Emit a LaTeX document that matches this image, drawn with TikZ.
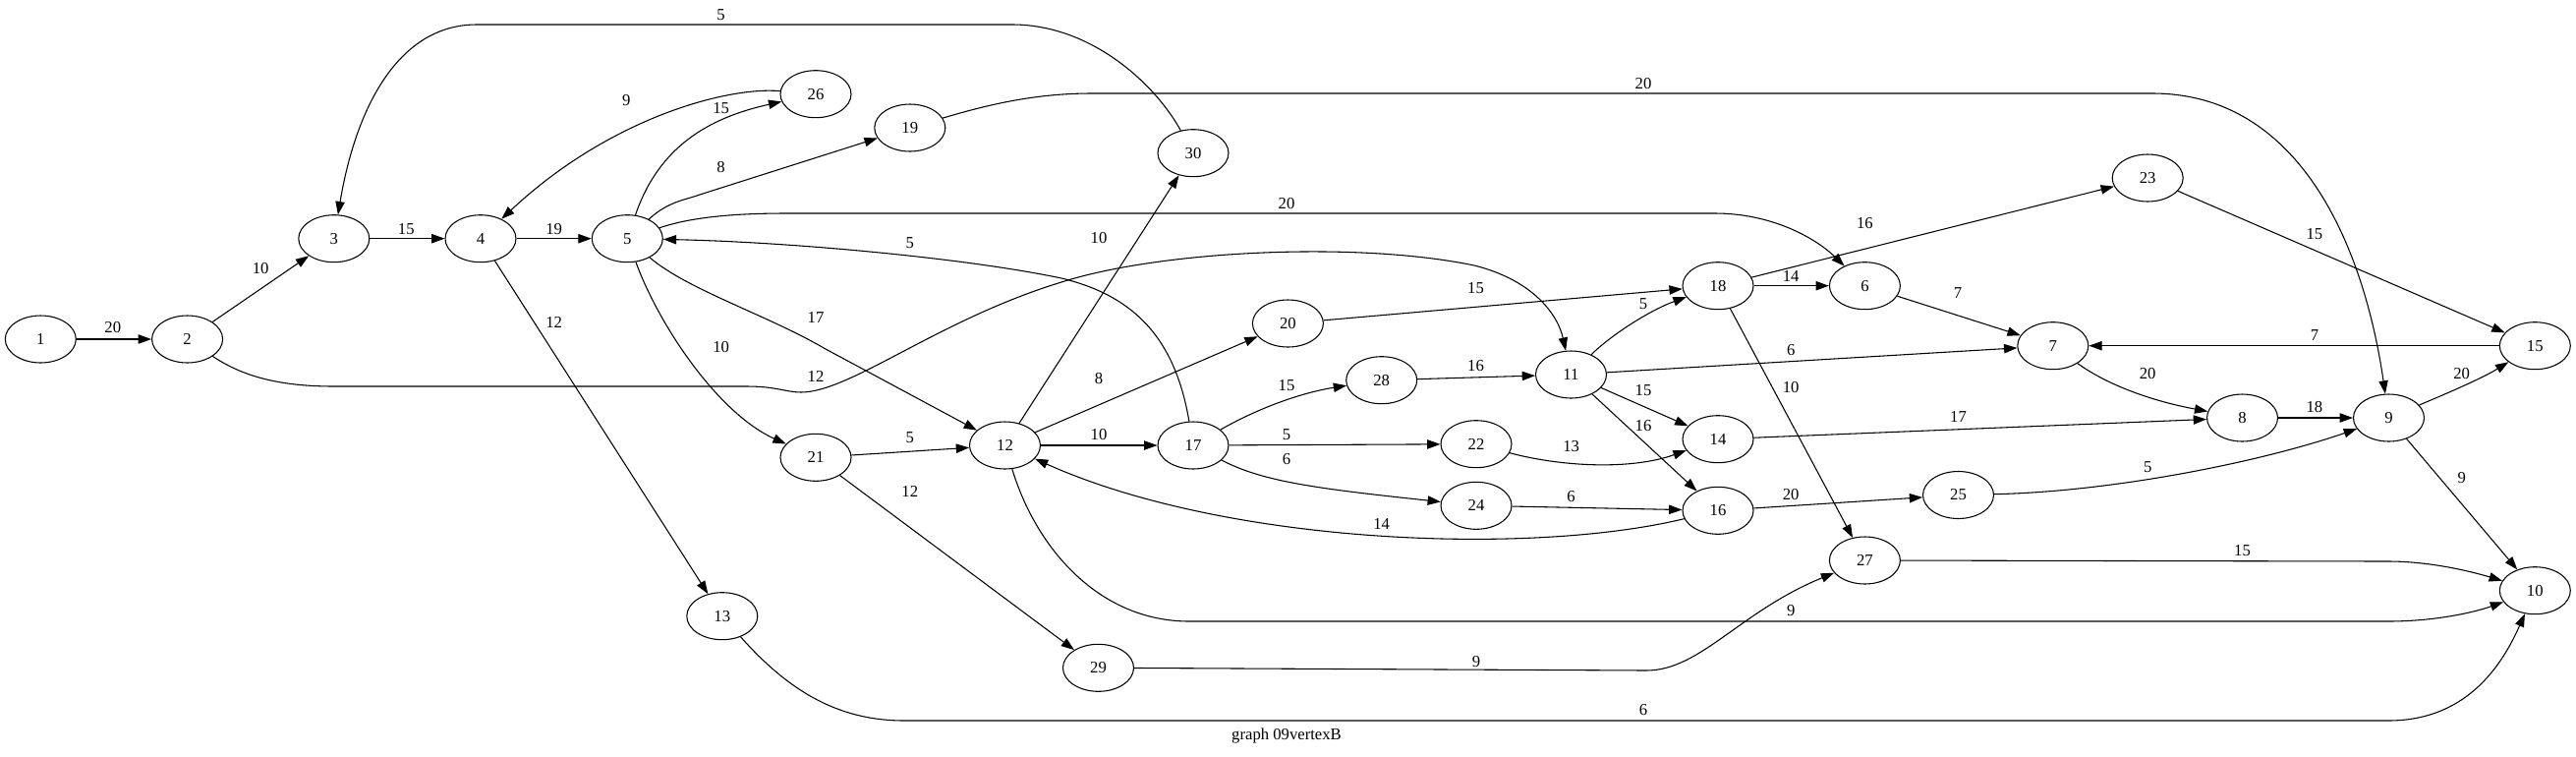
\documentclass[tikz,border=0pt]{standalone}
\usepackage{fontspec}
\setmainfont{Liberation Serif}
\usepackage{tikz}
\usetikzlibrary{arrows.meta,shapes.geometric}

\begin{document}
\begin{tikzpicture}[x=0.75pt,y=-0.75pt,line width=0.8pt,
    >={Triangle[length=10pt,width=7pt]},
    vertex/.style={ellipse,draw,minimum width=54pt,minimum height=36pt,inner sep=0pt,
      font=\fontsize{12.5}{14}\selectfont},
    wt/.style={inner sep=0pt,font=\fontsize{12.5}{14}\selectfont}]
  \useasboundingbox (0,0) rectangle (2621,769);

  % vertices
  \draw (41.3,345) node[vertex] (v1) {1};
  \draw (190.6,345) node[vertex] (v2) {2};
  \draw (339.8,242.7) node[vertex] (v3) {3};
  \draw (489,242.7) node[vertex] (v4) {4};
  \draw (638.3,242.7) node[vertex] (v5) {5};
  \draw (830,95.7) node[vertex] (v26) {26};
  \draw (925.8,130) node[vertex] (v19) {19};
  \draw (1214,155.7) node[vertex] (v30) {30};
  \draw (1022.5,453) node[vertex] (v12) {12};
  \draw (830,465.3) node[vertex] (v21) {21};
  \draw (734.8,626.7) node[vertex] (v13) {13};
  \draw (1117.5,679.3) node[vertex] (v29) {29};
  \draw (1310.4,329) node[vertex] (v20) {20};
  \draw (1214,453) node[vertex] (v17) {17};
  \draw (1405.7,386.7) node[vertex] (v28) {28};
  \draw (1502,451.7) node[vertex] (v22) {22};
  \draw (1502,514.3) node[vertex] (v24) {24};
  \draw (1598.5,381) node[vertex] (v11) {11};
  \draw (1748,290.7) node[vertex] (v18) {18};
  \draw (1897.4,290.7) node[vertex] (v6) {6};
  \draw (1748,446.7) node[vertex] (v14) {14};
  \draw (1748,519.3) node[vertex] (v16) {16};
  \draw (1992.5,503.5) node[vertex] (v25) {25};
  \draw (1897.4,570) node[vertex] (v27) {27};
  \draw (2185.2,181) node[vertex] (v23) {23};
  \draw (2088.8,351.7) node[vertex] (v7) {7};
  \draw (2281.5,425) node[vertex] (v8) {8};
  \draw (2430.5,425) node[vertex] (v9) {9};
  \draw (2579.3,351.7) node[vertex] (v15) {15};
  \draw (2579.3,600.7) node[vertex] (v10) {10};

  % straight edges
  \draw[->] (v1) -- (v2) node[wt] (l1-2) at (114.8,333.3) {20};
  \draw[->] (v2) -- (v3) node[wt] (l2-3) at (265.2,273.3) {10};
  \draw[->] (v3) -- (v4) node[wt] (l3-4) at (413.3,232.7) {15};
  \draw[->] (v4) -- (v5) node[wt] (l4-5) at (563.7,232.7) {19};
  \draw[->] (v4) -- (v13) node[wt] (l4-13) at (563.7,328.3) {12};
  \draw[->] (v12) -- (v30) node[wt] (l12-30) at (1118,241.7) {10};
  \draw[->] (v12) -- (v20) node[wt] (l12-20) at (1118,385) {8};
  \draw[->] (v12) -- (v17) node[wt] (l12-17) at (1118,442.3) {10};
  \draw[->] (v21) -- (v12) node[wt] (l21-12) at (925.8,445) {5};
  \draw[->] (v21) -- (v29) node[wt] (l21-29) at (925.8,500) {12};
  \draw[->] (v20) -- (v18) node[wt] (l20-18) at (1501.5,293) {15};
  \draw[->] (v17) -- (v22) node[wt] (l17-22) at (1309,441.7) {5};
  \draw[->] (v28) -- (v11) node[wt] (l28-11) at (1501.5,372) {16};
  \draw[->] (v11) -- (v7) node[wt] (l11-7) at (1822.2,356) {6};
  \draw[->] (v11) -- (v14) node[wt] (l11-14) at (1672,396.7) {15};
  \draw[->] (v11) -- (v16) node[wt] (l11-16) at (1672,433.3) {16};
  \draw[->] (v18) -- (v6) node[wt] (l18-6) at (1822.2,281) {14};
  \draw[->] (v18) -- (v23) node[wt] (l18-23) at (1897.4,226.7) {16};
  \draw[->] (v18) -- (v27) node[wt] (l18-27) at (1822.2,394) {10};
  \draw[->] (v24) -- (v16) node[wt] (l24-16) at (1598.6,505) {6};
  \draw[->] (v16) -- (v25) node[wt] (l16-25) at (1822.2,502.7) {20};
  \draw[->] (v6) -- (v7) node[wt] (l6-7) at (1991.9,298.3) {7};
  \draw[->] (v23) -- (v15) node[wt] (l23-15) at (2354.9,238.3) {15};
  \draw[->] (v15) -- (v7) node[wt] (l15-7) at (2354.9,340.7) {7};
  \draw[->] (v14) -- (v8) node[wt] (l14-8) at (1992.5,424) {17};
  \draw[->] (v8) -- (v9) node[wt] (l8-9) at (2354.9,414) {18};
  \draw[->] (v9) -- (v10) node[wt] (l9-10) at (2504.7,486) {9};

  % curved edges
  \draw[->] (v2) .. controls (250,385) and (290,393) .. (340,393) -- (760,393)
    .. controls (790,393) and (800,399) .. (815,399)
    .. controls (865,399) and (955,325) .. (1080,287)
    .. controls (1180,255) and (1380,245) .. (1500,270)
    .. controls (1560,285) and (1585,320) .. (v11)
    node[wt] (l2-11) at (830,383.3) {12};
  \draw[->] (v30) .. controls (1175,85) and (1110,25) .. (1030,25) -- (485,25)
    .. controls (405,25) and (362,110) .. (v3)
    node[wt] (l30-3) at (733.6,15) {5};
  \draw[->] (v26) .. controls (740,88) and (620,120) .. (v4)
    node[wt] (l26-4) at (637.2,101.7) {9};
  \draw[->] (v5) .. controls (670,150) and (720,120) .. (v26)
    node[wt] (l5-26) at (733.6,110) {15};
  \draw[->] (v5) .. controls (680,205) and (695,204) .. (712,198) -- (v19)
    node[wt] (l5-19) at (733.6,170) {8};
  \draw[->] (v5) .. controls (700,222) and (740,217) .. (800,217) -- (1745,217)
    .. controls (1800,217) and (1845,240) .. (v6)
    node[wt] (l5-6) at (1309,206.7) {20};
  \draw[->] (v5) .. controls (700,295) and (780,320) .. (840,355) -- (v12)
    node[wt] (l5-12) at (830,323.3) {17};
  \draw[->] (v5) .. controls (670,330) and (730,420) .. (v21)
    node[wt] (l5-21) at (733.6,353.3) {10};
  \draw[->] (v17) .. controls (1195,340) and (1150,300) .. (1080,283)
    .. controls (980,262) and (800,246) .. (v5)
    node[wt] (l17-5) at (925.8,246.7) {5};
  \draw[->] (v19) .. controls (1000,108) and (1050,95) .. (1110,95) -- (2190,95)
    .. controls (2340,95) and (2405,250) .. (v9)
    node[wt] (l19-9) at (1672,85) {20};
  \draw[->] (v12) .. controls (1055,560) and (1120,632) .. (1210,632) -- (2430,632)
    .. controls (2480,632) and (2520,622) .. (v10)
    node[wt] (l12-10) at (1822.2,620.7) {9};
  \draw[->] (v13) .. controls (800,700) and (850,733) .. (920,733) -- (2430,733)
    .. controls (2500,733) and (2540,690) .. (v10)
    node[wt] (l13-10) at (1672,721.7) {6};
  \draw[->] (v29) -- (1675,682) .. controls (1730,682) and (1770,622) .. (v27)
    node[wt] (l29-27) at (1502,672.7) {9};
  \draw[->] (v17) .. controls (1275,418) and (1320,400) .. (v28)
    node[wt] (l17-28) at (1309,391.7) {15};
  \draw[->] (v17) .. controls (1285,490) and (1340,497) .. (v24)
    node[wt] (l17-24) at (1309,466.7) {6};
  \draw[->] (v22) .. controls (1590,475) and (1660,478) .. (v14)
    node[wt] (l22-14) at (1598.6,454) {13};
  \draw[->] (v16) .. controls (1560,565) and (1250,555) .. (v12)
    node[wt] (l16-12) at (1405.7,533.3) {14};
  \draw[->] (v11) .. controls (1640,340) and (1680,315) .. (v18)
    node[wt] (l11-18) at (1672,309) {5};
  \draw[->] (v7) .. controls (2145,392) and (2190,408) .. (v8)
    node[wt] (l7-8) at (2185.2,380) {20};
  \draw[->] (v25) .. controls (2150,500) and (2300,470) .. (v9)
    node[wt] (l25-9) at (2185.2,475) {5};
  \draw[->] (v9) .. controls (2490,400) and (2525,385) .. (v15)
    node[wt] (l9-15) at (2504.7,380) {20};
  \draw[->] (v27) -- (2430,571) .. controls (2470,571) and (2510,580) .. (v10)
    node[wt] (l27-10) at (2281.5,560) {15};

  \draw (1309,749) node[wt] (caption) {graph 09vertexB};
\end{tikzpicture}
\end{document}
